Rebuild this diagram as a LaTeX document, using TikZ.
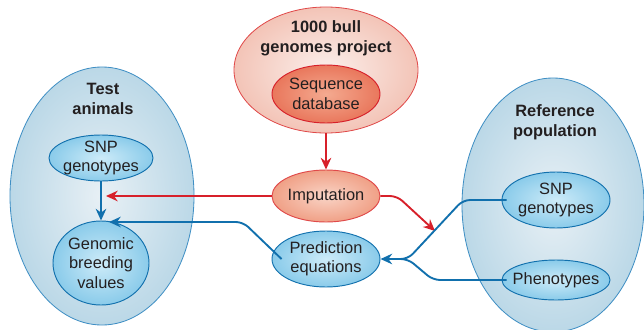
\documentclass[tikz,border=0pt]{standalone}
\usepackage{fontspec}
\setmainfont{Liberation Sans}
\usepackage{tikz}
\usetikzlibrary{arrows.meta, shapes.geometric}

\definecolor{txtgray}{HTML}{231F20}
\definecolor{arrred}{HTML}{D7202A}
\definecolor{arrblue}{HTML}{1170AD}
\definecolor{lineblue}{HTML}{3F8FC4}
\definecolor{linered}{HTML}{E04A4A}
\definecolor{bbIn}{HTML}{E8F0F5}
\definecolor{bbOut}{HTML}{BBD8E7}
\definecolor{sbIn}{HTML}{CDEBF8}
\definecolor{sbOut}{HTML}{8ACBEA}
\definecolor{brIn}{HTML}{FBEFEB}
\definecolor{brOut}{HTML}{F3C4B7}
\definecolor{sqIn}{HTML}{F4AA90}
\definecolor{sqOut}{HTML}{E9775C}
\definecolor{imIn}{HTML}{F9D4C6}
\definecolor{imOut}{HTML}{F0A086}

\begin{document}
\begin{tikzpicture}[x=0.03cm, y=-0.03cm,
  every label/.style={text=txtgray, align=center, font=\fontsize{14}{16.5}\selectfont},
  bigblue/.style={draw=lineblue, line width=0.7pt, shape=ellipse, inner color=bbIn, outer color=bbOut},
  smallblue/.style={draw=arrblue, line width=0.8pt, shape=ellipse, inner color=sbIn, outer color=sbOut},
  bigred/.style={draw=linered, line width=0.7pt, shape=ellipse, inner color=brIn, outer color=brOut},
  seqred/.style={draw=arrred, line width=0.8pt, shape=ellipse, inner color=sqIn, outer color=sqOut},
  impred/.style={draw=linered, line width=0.8pt, shape=ellipse, inner color=imIn, outer color=imOut},
  title/.style={text=txtgray, align=center, font=\bfseries\fontsize{14}{17}\selectfont},
  redarr/.style={draw=arrred, line width=1.6pt, rounded corners=6pt, -{Stealth[length=10pt,width=9pt]}},
  bluearr/.style={draw=arrblue, line width=1.6pt, rounded corners=6pt, -{Stealth[length=10pt,width=9pt]}},
  blueline/.style={draw=arrblue, line width=1.6pt, rounded corners=6pt}]
\useasboundingbox (0,0) rectangle (644,329);

% large groups
\node[bigblue, minimum width=5.52cm, minimum height=7.74cm] (test) at (102,196) {};
\node[bigred, minimum width=5.52cm, minimum height=3.78cm] (proj) at (326,70) {};
\node[bigblue, minimum width=5.46cm, minimum height=7.62cm] (ref) at (553,205) {};
\node[title] (testT) at (103,99) {Test\\animals};
\node[title] (projT) at (326,38) {1000 bull\\genomes project};
\node[title] (refT) at (555,122) {Reference\\population};

% inner nodes
\node[smallblue, minimum width=3.12cm, minimum height=1.38cm, label={center:SNP\\genotypes}] (snpL) at (101,158) {};
\node[smallblue, minimum width=2.88cm, minimum height=2.52cm, label={center:Genomic\\breeding\\values}] (gbv) at (101,263) {};
\node[seqred, minimum width=3.24cm, minimum height=1.74cm, label={center:Sequence\\database}] (seq) at (326,94) {};
\node[impred, minimum width=3.24cm, minimum height=1.56cm, label={center:Imputation}] (imp) at (326,196) {};
\node[smallblue, minimum width=3.24cm, minimum height=1.68cm, label={center:Prediction\\equations}] (pred) at (326,259) {};
\node[smallblue, minimum width=3.24cm, minimum height=1.68cm, label={center:SNP\\genotypes}] (snpR) at (556,200) {};
\node[smallblue, minimum width=3.24cm, minimum height=1.2cm, label={center:Phenotypes}] (pheno) at (556,280) {};

% arrow ends
\coordinate (hitR) at (106,196);
\coordinate (hitB) at (109,222);
\coordinate (hitM) at (435,231);

\draw[redarr] (proj.south) -- (imp.north);
\draw[redarr] (imp.west) -- (hitR);
\draw[redarr] (imp.east) -- (397,196) -- (hitM);
\draw[bluearr] (snpL.south) -- (gbv.north);
\draw[bluearr] ([xshift=0.3cm]pred.west) -- (243,222) -- (hitB);
\draw[bluearr] ([xshift=0.15cm]snpR.west) -- (463,200) -- (408,259) -- (pred.east);
\draw[blueline] ([xshift=0.15cm]pheno.west) -- (433,280) -- (408,259) -- (398,259);
\end{tikzpicture}
\end{document}
